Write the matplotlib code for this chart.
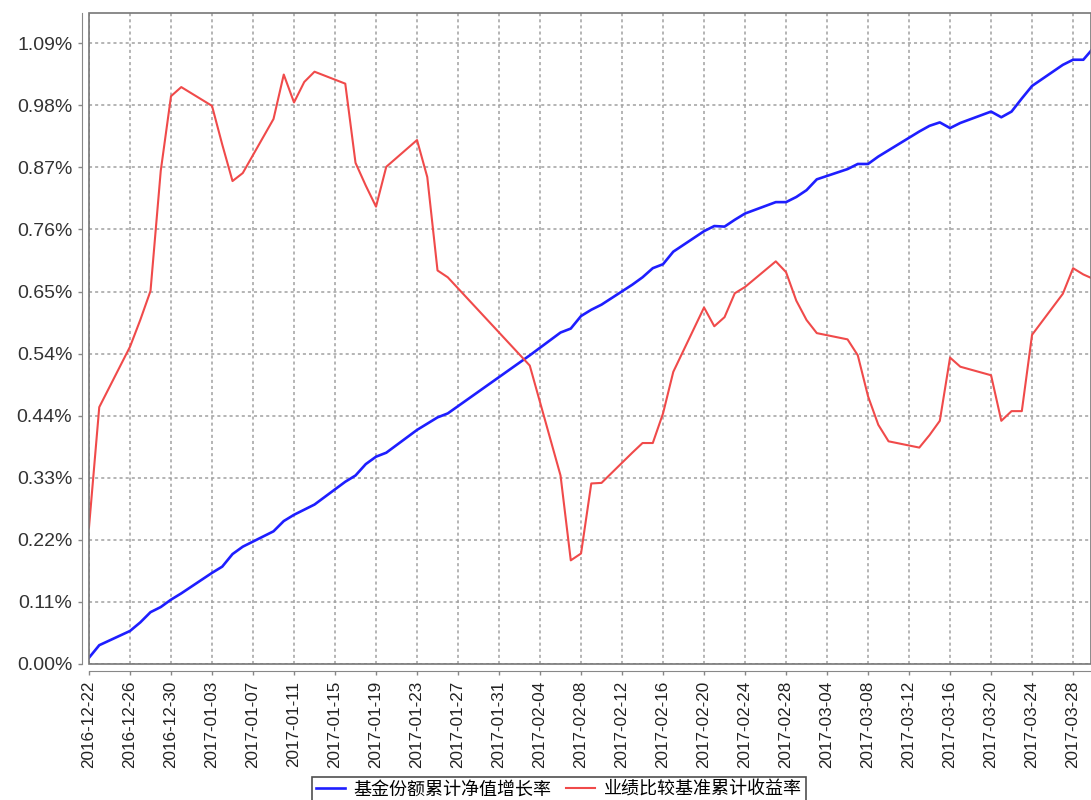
import matplotlib
matplotlib.use('agg')
import matplotlib.pyplot as plt
from matplotlib.patches import Rectangle
import pandas as pd

plt.rcParams['font.family'] = ['Liberation Sans', 'DejaVu Sans']

# trading days (plus year-end 12-31)
dates = ['2016-12-22', '2016-12-23', '2016-12-26', '2016-12-27', '2016-12-28', '2016-12-29', '2016-12-30', '2016-12-31',
         '2017-01-03', '2017-01-04', '2017-01-05', '2017-01-06', '2017-01-09', '2017-01-10', '2017-01-11', '2017-01-12',
         '2017-01-13', '2017-01-16', '2017-01-17', '2017-01-18', '2017-01-19', '2017-01-20', '2017-01-23', '2017-01-24',
         '2017-01-25', '2017-01-26', '2017-02-03', '2017-02-06', '2017-02-07', '2017-02-08', '2017-02-09', '2017-02-10',
         '2017-02-13', '2017-02-14', '2017-02-15', '2017-02-16', '2017-02-17', '2017-02-20', '2017-02-21', '2017-02-22',
         '2017-02-23', '2017-02-24', '2017-02-27', '2017-02-28', '2017-03-01', '2017-03-02', '2017-03-03', '2017-03-06',
         '2017-03-07', '2017-03-08', '2017-03-09', '2017-03-10', '2017-03-13', '2017-03-14', '2017-03-15', '2017-03-16',
         '2017-03-17', '2017-03-20', '2017-03-21', '2017-03-22', '2017-03-23', '2017-03-24', '2017-03-27', '2017-03-28',
         '2017-03-29', '2017-03-30']

# 基金份额累计净值增长率 (%)
fund = [0.011, 0.033, 0.058, 0.073, 0.091, 0.100, 0.113, 0.124,
        0.160, 0.171, 0.193, 0.206, 0.233, 0.251, 0.262, 0.271,
        0.280, 0.320, 0.331, 0.351, 0.364, 0.371, 0.411, 0.422,
        0.433, 0.440, 0.542, 0.582, 0.589, 0.611, 0.622, 0.631,
        0.666, 0.679, 0.695, 0.702, 0.724, 0.760, 0.769, 0.768,
        0.780, 0.791, 0.811, 0.811, 0.820, 0.832, 0.851, 0.869,
        0.878, 0.878, 0.891, 0.902, 0.935, 0.945, 0.951, 0.941,
        0.950, 0.970, 0.960, 0.970, 0.993, 1.015, 1.052, 1.061,
        1.061, 1.082]

# 业绩比较基准累计收益率 (%)
bench = [0.240, 0.451, 0.557, 0.604, 0.655, 0.866, 0.997, 1.013,
         0.980, 0.912, 0.848, 0.862, 0.957, 1.035, 0.986, 1.022,
         1.040, 1.019, 0.880, 0.840, 0.803, 0.873, 0.920, 0.855,
         0.691, 0.679, 0.524, 0.331, 0.182, 0.194, 0.317, 0.318,
         0.371, 0.388, 0.388, 0.440, 0.513, 0.626, 0.593, 0.609,
         0.651, 0.662, 0.707, 0.688, 0.638, 0.604, 0.581, 0.570,
         0.542, 0.470, 0.420, 0.391, 0.380, 0.402, 0.427, 0.538,
         0.522, 0.507, 0.427, 0.444, 0.444, 0.578, 0.650, 0.695,
         0.684, 0.676]

labels = ['基金份额累计净值增长率', '业绩比较基准累计收益率']
yticks = [0.0, 0.109, 0.218, 0.327, 0.436, 0.545, 0.654, 0.763, 0.872, 0.981, 1.090]
ytick_labels = ['0.00%', '0.11%', '0.22%', '0.33%', '0.44%', '0.54%', '0.65%', '0.76%', '0.87%', '0.98%', '1.09%']

x = pd.to_datetime(dates)
start = pd.Timestamp('2016-12-22')

fig = plt.figure(figsize=(10.91, 8.0), dpi=100)
ax = fig.add_axes([89 / 1091, 1 - 664 / 800, 1 - 89 / 1091, (664 - 12.7) / 800])

ax.plot(x, fund, color='#1e1eff', linewidth=1.9, label=labels[0], zorder=3)
ax.plot(x, bench, color='#f04a4a', linewidth=1.5, label=labels[1], zorder=3)

ax.set_ylim(0, 1.1436)
ax.set_xlim(start, start + pd.Timedelta(days=97.75))
ax.set_yticks(yticks)
ax.set_yticklabels(ytick_labels)

xt = pd.date_range(start, periods=25, freq='4D')
ax.set_xticks(xt)
ax.set_xticklabels([d.strftime('%Y-%m-%d') for d in xt])

ax.grid(True, color='#a0a0a0', linestyle=(0, (2, 2)), linewidth=1.1)
ax.set_axisbelow(True)

for s in ['top', 'right']:
    ax.spines[s].set_visible(False)
ax.spines['left'].set_position(('outward', 5))
ax.spines['bottom'].set_position(('outward', 5))
ax.spines['left'].set_color('#888888')
ax.spines['bottom'].set_color('#888888')
ax.tick_params(axis='both', colors='#888888', length=3, width=1)
ax.tick_params(axis='y', pad=4, labelcolor='#333333', labelsize=14)
ax.tick_params(axis='x', pad=4, labelcolor='#222222', labelrotation=90, labelsize=12.3)

# plot area border
ax.add_patch(Rectangle((0, 0), 1, 1, transform=ax.transAxes, fill=False,
                       edgecolor='#777777', linewidth=1.2, zorder=4, clip_on=False))

leg = fig.legend(loc='upper center', bbox_to_anchor=(559 / 1091, 1 - 777 / 800), ncol=2,
                 prop={'family': ['Noto Sans CJK SC', 'DejaVu Sans'], 'size': 13},
                 frameon=True, fancybox=False, edgecolor='#222222', handlelength=1.6,
                 columnspacing=0.8, handletextpad=0.5, borderpad=0.2, borderaxespad=0)
leg.get_frame().set_linewidth(1.2)

fig.savefig('out.png', dpi=100)
